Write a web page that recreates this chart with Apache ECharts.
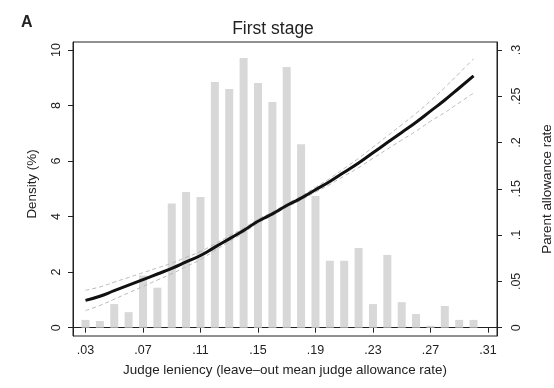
<!DOCTYPE html>
<html>
<head>
<meta charset="utf-8">
<script src="https://cdn.jsdelivr.net/npm/echarts@6/dist/echarts.min.js"></script>
<style>html,body{margin:0;padding:0;background:#fff;}#c{width:554px;height:388px;}</style>
</head>
<body>
<div id="c"></div>
<script>
// Judge leniency bins (bar centers)
var leniency = [0.03,0.04,0.05,0.06,0.07,0.08,0.09,0.10,0.11,0.12,0.13,0.14,0.15,0.16,0.17,0.18,0.19,0.20,0.21,0.22,0.23,0.24,0.25,0.26,0.27,0.28,0.29,0.30];
// Density (%) histogram
var density = [0.28,0.24,0.85,0.56,1.88,1.44,4.47,4.89,4.71,8.85,8.60,9.71,8.81,8.13,9.39,6.61,4.74,2.41,2.41,2.87,0.85,2.62,0.92,0.49,0.07,0.78,0.28,0.28];
// Parent allowance rate (fitted) and 95% CI
var fitted = [0.0295,0.034,0.040,0.046,0.052,0.058,0.064,0.071,0.078,0.087,0.096,0.105,0.115,0.123,0.132,0.140,0.149,0.158,0.168,0.178,0.189,0.200,0.211,0.222,0.234,0.246,0.259,0.272];
var upper = [0.0405,0.044,0.0492,0.0543,0.0594,0.0645,0.0697,0.076,0.0823,0.0906,0.099,0.1075,0.1171,0.1249,0.1339,0.1421,0.1516,0.1613,0.1721,0.183,0.195,0.2071,0.2193,0.2316,0.245,0.2595,0.275,0.2905];
var lower = [0.0185,0.024,0.0308,0.0377,0.0446,0.0515,0.0583,0.066,0.0737,0.0834,0.093,0.1025,0.1129,0.1211,0.1301,0.1379,0.1464,0.1547,0.1639,0.173,0.183,0.1929,0.2027,0.2124,0.223,0.2325,0.243,0.2535];
// Tick labels
var xTicks = [0.03,0.07,0.11,0.15,0.19,0.23,0.27,0.31];
var densityTicks = [0,2,4,6,8,10];
var rateTicks = [0,0.05,0.1,0.15,0.2,0.25,0.3];

function pairs(xs, ys){ return xs.map(function(x,i){ return [x, ys[i]]; }); }
function stata(v){ if (Math.abs(v) < 1e-9) return '0'; var s = (+v.toFixed(3)).toString(); return s.replace(/^0/, ''); }

var FONT = 'Liberation Sans';
var chart = echarts.init(document.getElementById('c'), null, {renderer:'canvas'});
chart.setOption({
  animation: false,
  textStyle: {fontFamily: FONT},
  title: {
    text: 'First stage', left: 268, top: 15, textAlign: 'center',
    textStyle: {fontFamily: FONT, fontSize: 17.5, fontWeight: 'normal', color: '#222'}
  },
  graphic: [{type:'text', left: 21, top: 15, style:{text:'A', font:'bold 16px "Liberation Sans"', fill:'#222'}}],
  grid: {left: 73, right: 57, top: 42, bottom: 52, containLabel: false, outerBoundsMode: 'none',
         show: true, borderColor: '#222', borderWidth: 1, backgroundColor: 'transparent'},
  xAxis: {
    type: 'value', min: 0.0213, max: 0.3163,
    name: 'Judge leniency (leave\u2013out mean judge allowance rate)', nameLocation: 'middle', nameGap: 28,
    nameTextStyle: {fontSize: 13.4, color: '#222', fontFamily: FONT},
    axisLine: {show: true, lineStyle: {color: '#222', width: 1}},
    axisTick: {show: true, length: 5, customValues: xTicks, lineStyle: {color: '#222'}},
    axisLabel: {customValues: xTicks, formatter: stata, fontSize: 12.5, color: '#222', margin: 8, fontFamily: FONT},
    splitLine: {show: false}
  },
  yAxis: [{
    type: 'value', min: -0.3, max: 10.29, position: 'left',
    name: 'Density (%)', nameLocation: 'middle', nameGap: 34, nameRotate: 90,
    nameTextStyle: {fontSize: 13.4, color: '#222', fontFamily: FONT, padding: [0, 0, 0, 10]},
    axisLine: {show: true, lineStyle: {color: '#222', width: 1}},
    axisTick: {show: true, length: 5, customValues: densityTicks, lineStyle: {color: '#222'}},
    axisLabel: {customValues: densityTicks, rotate: 90, fontSize: 12.5, color: '#222', margin: 10, fontFamily: FONT},
    splitLine: {show: false}
  },{
    type: 'value', min: -0.009, max: 0.3087, position: 'right',
    name: 'Parent allowance rate', nameLocation: 'middle', nameGap: 44, nameRotate: 90,
    nameTextStyle: {fontSize: 13.4, color: '#222', fontFamily: FONT},
    axisLine: {show: true, lineStyle: {color: '#222', width: 1}},
    axisTick: {show: true, length: 5, customValues: rateTicks, lineStyle: {color: '#222'}},
    axisLabel: {customValues: rateTicks, rotate: 90, formatter: stata, fontSize: 12.5, color: '#222', margin: 13, fontFamily: FONT},
    splitLine: {show: false}
  }],
  series: [{
    type: 'bar', xAxisIndex: 0, yAxisIndex: 0, barWidth: 8,
    itemStyle: {color: '#d8d8d8'},
    data: pairs(leniency, density)
  },{
    type: 'line', yAxisIndex: 1, smooth: true, symbol: 'none',
    lineStyle: {color: '#b8b8b8', width: 1, type: [4,3]},
    data: pairs(leniency, upper)
  },{
    type: 'line', yAxisIndex: 1, smooth: true, symbol: 'none',
    lineStyle: {color: '#b8b8b8', width: 1, type: [4,3]},
    data: pairs(leniency, lower)
  },{
    type: 'line', yAxisIndex: 1, smooth: true, symbol: 'none',
    lineStyle: {color: '#111', width: 3},
    data: pairs(leniency, fitted)
  }]
});
</script>
</body>
</html>
